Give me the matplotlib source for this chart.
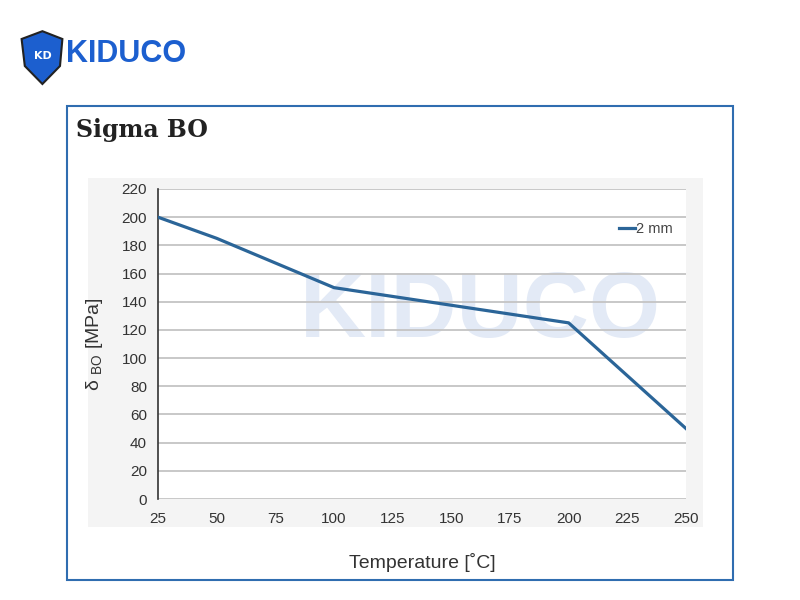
import matplotlib
matplotlib.use("Agg")
import matplotlib.pyplot as plt
from matplotlib.patches import Rectangle, Polygon

# data
temperature = [25, 50, 100, 200, 250]
sigma_bo = [200, 185, 150, 125, 50]
series_label = "2 mm"
x_ticks = [25, 50, 75, 100, 125, 150, 175, 200, 225, 250]
y_ticks = list(range(0, 221, 20))

LINE = "#2b6598"
BRAND = "#1c5fcf"
SANS = ["Liberation Sans", "DejaVu Sans"]

fig = plt.figure(figsize=(8, 6), dpi=100)
fig.patch.set_facecolor("white")

# outer blue frame and grey panel behind the chart
fig.add_artist(Rectangle((0.084, 0.033), 0.832, 0.79, transform=fig.transFigure,
                         fill=False, edgecolor="#2f6db0", lw=1.5))
fig.add_artist(Rectangle((0.11, 0.122), 0.769, 0.582, transform=fig.transFigure,
                         facecolor="#f4f4f4", edgecolor="none", zorder=0))

# logo, top left
shield = Polygon([(0.027, 0.935), (0.053, 0.948), (0.078, 0.935), (0.075, 0.89),
                  (0.053, 0.86), (0.031, 0.89)], closed=True,
                 transform=fig.transFigure, facecolor=BRAND, edgecolor="#222", lw=1.5)
fig.add_artist(shield)
fig.text(0.053, 0.907, "KD", color="white", fontsize=8, fontweight="bold",
         ha="center", va="center")
fig.text(0.082, 0.91, "KIDUCO", color=BRAND, fontsize=22, fontweight="bold",
         ha="left", va="center", family=SANS)

fig.text(0.095, 0.783, "Sigma BO", fontsize=17, fontweight="bold",
         family="DejaVu Serif", color="#222", ha="left", va="center")

ax = fig.add_axes([0.1975, 0.1683, 0.66, 0.5167])
ax.set_facecolor("white")
ax.text(0.61, 0.6, "KIDUCO", transform=ax.transAxes, fontsize=66, fontweight="bold",
        family=SANS, color="#e3eaf6", ha="center", va="center", zorder=0.5)

ax.plot(temperature, sigma_bo, color=LINE, lw=2.3, label=series_label, zorder=3)

ax.set_xlim(25, 250)
ax.set_ylim(0, 220)
ax.set_xticks(x_ticks)
ax.set_yticks(y_ticks)
ax.grid(axis="y", color="#c4c4c4", lw=1.3)
ax.set_axisbelow(True)
for side in ["top", "right", "bottom"]:
    ax.spines[side].set_visible(False)
ax.spines["left"].set_color("#333")
ax.spines["left"].set_linewidth(1.2)
ax.tick_params(axis="y", length=0, labelsize=11, labelcolor="#333", pad=8)
ax.tick_params(axis="x", length=0, labelsize=11, labelcolor="#333", pad=9)
for lbl in ax.get_xticklabels() + ax.get_yticklabels():
    lbl.set_family(SANS)

ax.set_xlabel("Temperature [˚C]", fontsize=14, color="#333", labelpad=20, family=SANS)
ax.set_ylabel(r"δ $_{\mathregular{BO}}$ [MPa]", fontsize=14, color="#333",
              labelpad=12, family=SANS)

leg = ax.legend(loc="upper right", bbox_to_anchor=(1.0, 0.935), frameon=False,
                prop={"family": SANS, "size": 10.5}, handlelength=1.1, handletextpad=0.1)
for t in leg.get_texts():
    t.set_color("#444")

fig.savefig("out.png", dpi=100)
